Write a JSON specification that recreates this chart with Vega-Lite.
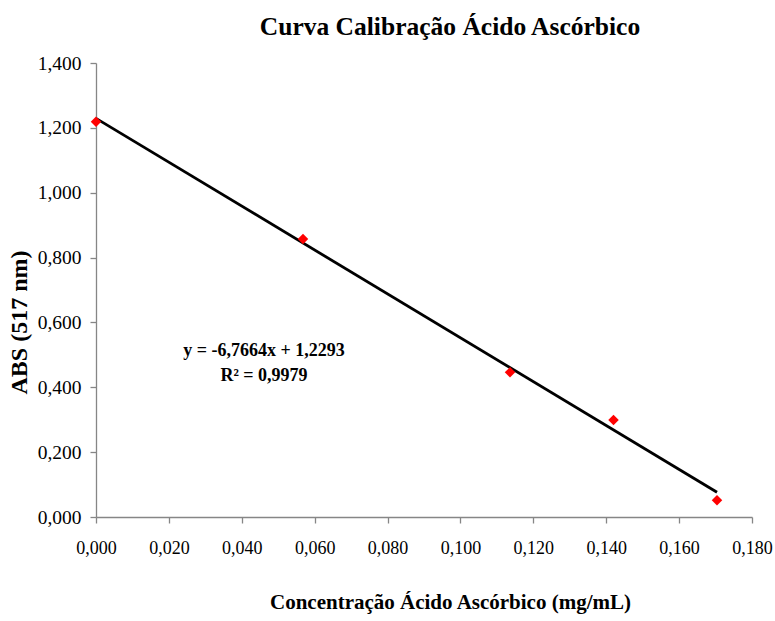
{
  "$schema": "https://vega.github.io/schema/vega-lite/v6.json",
  "width": 656,
  "height": 454,
  "autosize": "none",
  "padding": {"left": 96, "top": 63, "right": 23, "bottom": 104},
  "background": "white",
  "config": {
    "view": {"stroke": null},
    "font": "Liberation Serif, serif",
    "axis": {
      "grid": false,
      "domainColor": "#868686",
      "tickColor": "#868686",
      "domainWidth": 1.3,
      "tickWidth": 1.3,
      "tickSize": 6,
      "labelFlush": false,
      "labelFont": "Liberation Serif, serif",
      "labelColor": "black",
      "titleFont": "Liberation Serif, serif",
      "titleFontWeight": "bold",
      "titleColor": "black"
    }
  },
  "title": {
    "text": "Curva Calibração Ácido Ascórbico",
    "font": "Liberation Serif, serif",
    "fontSize": 25.5,
    "fontWeight": "bold",
    "color": "black",
    "anchor": "middle",
    "dx": 26,
    "offset": 13
  },
  "datasets": {
    "pontos": [
      {"conc": 0.0, "abs": 1.219},
      {"conc": 0.0568, "abs": 0.857},
      {"conc": 0.1136, "abs": 0.446},
      {"conc": 0.142, "abs": 0.299},
      {"conc": 0.1704, "abs": 0.052}
    ],
    "tendencia": [
      {"conc": 0.0, "abs": 1.2293},
      {"conc": 0.1704, "abs": 0.0763}
    ],
    "equacao": [
      {"conc": 0.0461, "abs": 0.511, "texto": "y = -6,7664x + 1,2293"},
      {"conc": 0.0461, "abs": 0.436, "texto": "R² = 0,9979"}
    ]
  },
  "layer": [
    {
      "data": {"name": "tendencia"},
      "mark": {"type": "line", "color": "black", "strokeWidth": 2.8},
      "encoding": {
        "x": {
          "field": "conc",
          "type": "quantitative",
          "scale": {"domain": [0, 0.18], "nice": false},
          "axis": {
            "title": "Concentração Ácido Ascórbico (mg/mL)",
            "titleFontSize": 21,
            "titleX": 354,
            "titleAlign": "center",
            "values": [0, 0.02, 0.04, 0.06, 0.08, 0.1, 0.12, 0.14, 0.16, 0.18],
            "labelExpr": "replace(format(datum.value, '.3f'), '.', ',')",
            "labelFontSize": 18,
            "labelPadding": 16,
            "titlePadding": 34
          }
        },
        "y": {
          "field": "abs",
          "type": "quantitative",
          "scale": {"domain": [0, 1.4], "nice": false},
          "axis": {
            "title": "ABS (517 nm)",
            "titleFontSize": 24,
            "titleY": 259,
            "titleAlign": "center",
            "values": [0, 0.2, 0.4, 0.6, 0.8, 1.0, 1.2, 1.4],
            "labelExpr": "replace(format(datum.value, '.3f'), '.', ',')",
            "labelFontSize": 19.5,
            "labelPadding": 9,
            "titlePadding": 6
          }
        }
      }
    },
    {
      "data": {"name": "pontos"},
      "mark": {"type": "point", "shape": "diamond", "filled": true, "color": "#ff0000", "size": 110, "opacity": 1},
      "encoding": {
        "x": {"field": "conc", "type": "quantitative"},
        "y": {"field": "abs", "type": "quantitative"}
      }
    },
    {
      "data": {"name": "equacao"},
      "mark": {"type": "text", "align": "center", "baseline": "middle", "font": "Liberation Serif, serif", "fontSize": 18, "fontWeight": "bold", "color": "black"},
      "encoding": {
        "x": {"field": "conc", "type": "quantitative"},
        "y": {"field": "abs", "type": "quantitative"},
        "text": {"field": "texto"}
      }
    }
  ]
}
